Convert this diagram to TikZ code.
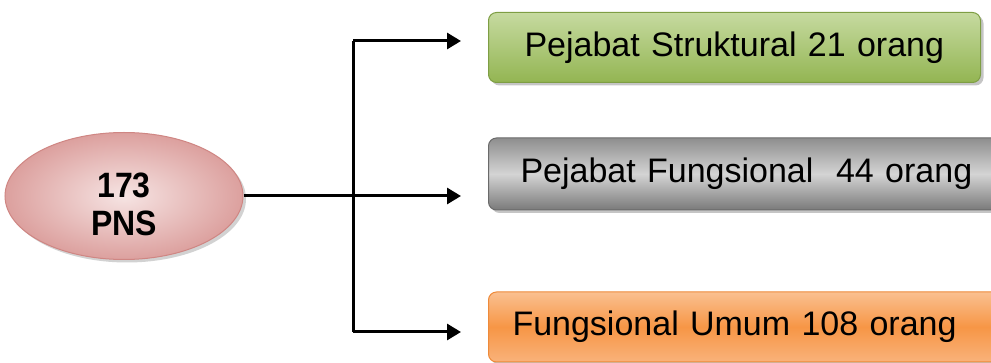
\documentclass[tikz,border=0pt]{standalone}
\usepackage{fontspec}
\setmainfont{Liberation Sans}
\usetikzlibrary{arrows.meta,shapes.geometric,shadows}

\definecolor{hijauAtas}{HTML}{C6DAA0}
\definecolor{hijauBawah}{HTML}{93B552}
\definecolor{hijauGaris}{HTML}{7E9E44}
\definecolor{abuAtas}{HTML}{8E8E8E}
\definecolor{abuTengah}{HTML}{D4D4D4}
\definecolor{abuBawah}{HTML}{7A7A7A}
\definecolor{abuGaris}{HTML}{6A6A6A}
\definecolor{oranyeAtas}{HTML}{FAC090}
\definecolor{oranyeTengah}{HTML}{F79646}
\definecolor{oranyeBawah}{HTML}{F9B27A}
\definecolor{oranyeGaris}{HTML}{EE8A3A}
\definecolor{merahDalam}{HTML}{F6E4E3}
\definecolor{merahLuar}{HTML}{DCA09E}
\definecolor{merahGaris}{HTML}{CF8683}

\tikzset{
  kotak/.style={draw, line width=1pt, rounded corners=8pt, anchor=west,
    minimum height=70pt, align=left, font=\fontsize{34}{40}\selectfont,
    drop shadow={shadow xshift=3pt, shadow yshift=-3pt, fill=black!45}},
  pusat/.style={ellipse, draw=merahGaris, line width=1pt, inner color=merahDalam,
    outer color=merahLuar, minimum width=238pt, minimum height=127pt, align=center,
    font=\bfseries\fontsize{32}{34}\selectfont,
    drop shadow={shadow xshift=3pt, shadow yshift=-3pt, fill=black!35}},
  garis/.style={line width=3pt},
  panah/.style={garis, -{Triangle[length=14pt,width=16pt]}},
}

\begin{document}
\begin{tikzpicture}[x=1pt,y=-1pt]
\useasboundingbox (0,0) rectangle (991,363);

% jumlah pegawai
\node[pusat] (pns) at (124,196) {\smash{\raisebox{-20pt}{\scalebox{1}[1.1]{\begin{tabular}{@{}c@{}}173\\PNS\end{tabular}}}}};

% rincian
\node[kotak, draw=hijauGaris, top color=hijauAtas, bottom color=hijauBawah,
  text width=420pt, inner xsep=36pt] (struk) at (488,47.5) {Pejabat Struktural 21 orang};
\node[kotak, draw=abuGaris, top color=abuAtas, bottom color=abuBawah, middle color=abuTengah,
  text width=480pt, inner xsep=32pt, minimum height=72pt] (fung) at (488,174) {Pejabat Fungsional\ \ 44 orang};
\node[kotak, draw=oranyeGaris, top color=oranyeAtas, bottom color=oranyeBawah, middle color=oranyeTengah,
  text width=480pt, inner xsep=24pt] (umum) at (488,327) {Fungsional Umum 108 orang};

% cabang
\coordinate (jtop) at (353,41);
\coordinate (jmid) at (353,196);
\coordinate (jbot) at (353,332);
\coordinate (astruk) at (461,41);
\coordinate (afung) at (461,196);
\coordinate (aumum) at (461,332);

\draw[garis] (pns.east) -- (jmid);
\draw[garis] (jtop) -- (jbot);
\draw[panah] (jtop) -- (astruk);
\draw[panah] (jmid) -- (afung);
\draw[panah] (jbot) -- (aumum);
\end{tikzpicture}
\end{document}
